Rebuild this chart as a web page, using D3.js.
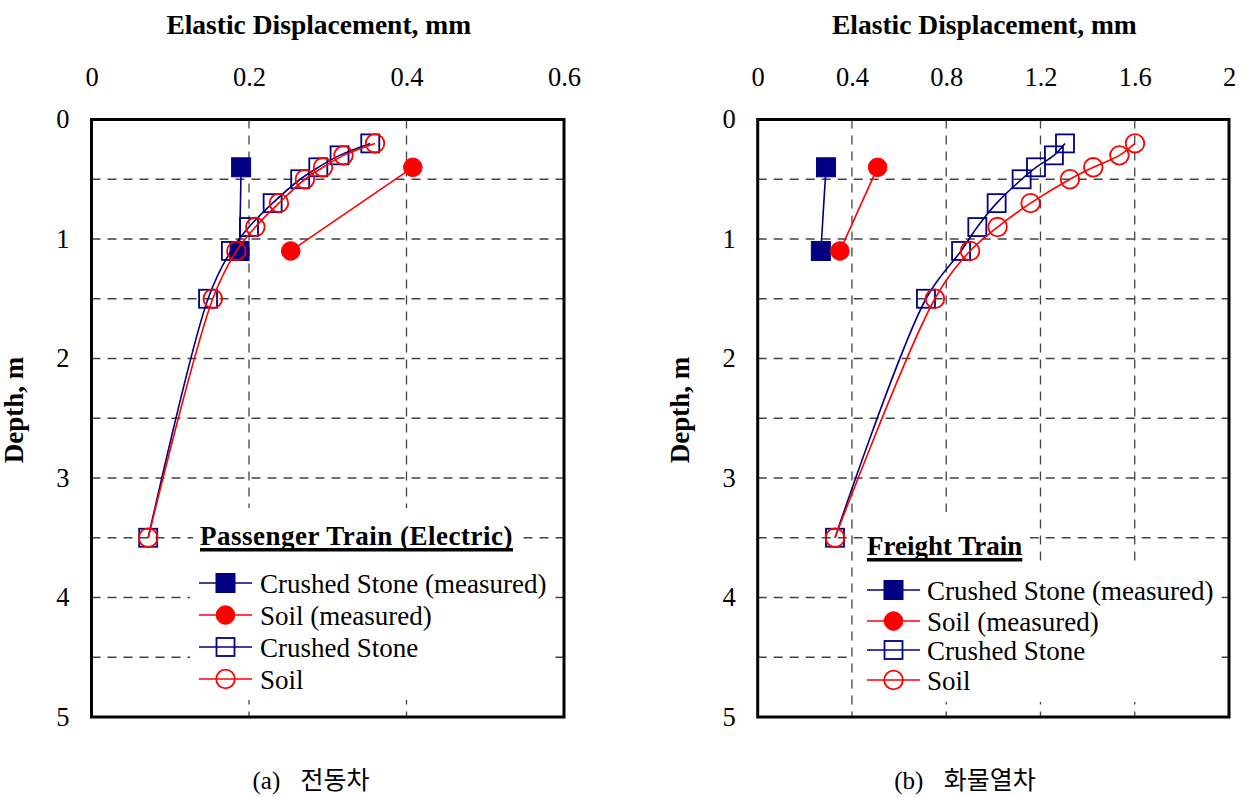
<!DOCTYPE html>
<html lang="en">
<head>
<meta charset="utf-8">
<script src="https://cdn.jsdelivr.net/npm/d3@7/dist/d3.min.js"></script>
<title>Elastic Displacement vs Depth</title>
<style>
    body { margin: 0; background: #fff; }
    svg { display: block; }
</style>
</head>
<body>
<div id="chart"></div>
<script>
// depths (m) of the points
const depthCalc = [0.2, 0.3, 0.4, 0.5, 0.7, 0.9, 1.1, 1.5, 3.5];
const depthMeasured = [0.4, 1.1];

// (a) passenger train, displacement in mm
const passengerStoneMeas = [0.190, 0.188];
const passengerSoilMeas = [0.408, 0.253];
const passengerStoneCalc = [0.354, 0.315, 0.288, 0.265, 0.230, 0.200, 0.177, 0.148, 0.072];
const passengerSoilCalc = [0.360, 0.320, 0.294, 0.271, 0.238, 0.208, 0.184, 0.154, 0.072];

// (b) freight train
const freightStoneMeas = [0.290, 0.268];
const freightSoilMeas = [0.509, 0.349];
const freightStoneCalc = [1.304, 1.257, 1.181, 1.120, 1.014, 0.932, 0.863, 0.714, 0.328];
const freightSoilCalc = [1.601, 1.535, 1.424, 1.325, 1.158, 1.018, 0.901, 0.752, 0.328];

const passengerXTicks = [0, 0.2, 0.4, 0.6];
const freightXTicks = [0, 0.4, 0.8, 1.2, 1.6, 2];
const depthTicks = [0, 1, 2, 3, 4, 5];
const depthGrid = [0.5, 1, 1.5, 2, 2.5, 3, 3.5, 4, 4.5];

const seriesNames = ["Crushed Stone (measured)", "Soil (measured)", "Crushed Stone", "Soil"];
const NAVY = "#000080", RED = "#ff0000";
const serif = "'Liberation Serif', 'Times New Roman', serif";

const svg = d3.select("#chart").append("svg")
    .attr("width", 1247)
    .attr("height", 797);

function symbol(g, type, cx, cy) {
    if (type === "filledSquare" || type === "openSquare") {
        const s = type === "filledSquare" ? 19 : 18;
        g.append("rect")
            .attr("x", cx - s / 2).attr("y", cy - s / 2)
            .attr("width", s).attr("height", s)
            .attr("fill", type === "filledSquare" ? NAVY : "none")
            .attr("stroke", NAVY)
            .attr("stroke-width", type === "filledSquare" ? 1 : 1.8);
    } else {
        g.append("circle")
            .attr("cx", cx).attr("cy", cy)
            .attr("r", 9.3)
            .attr("fill", type === "filledCircle" ? RED : "none")
            .attr("stroke", RED)
            .attr("stroke-width", type === "filledCircle" ? 1 : 1.8);
    }
}

function drawPanel(cfg) {
    const x = d3.scaleLinear().domain(cfg.xDomain).range([cfg.left, cfg.right]);
    const y = d3.scaleLinear().domain([0, 5]).range([119.5, 717]);
    const g = svg.append("g");

    // grid
    g.selectAll(".vgrid")
        .data(cfg.xTicks.slice(1, -1))
        .enter().append("line")
        .attr("x1", d => x(d)).attr("x2", d => x(d))
        .attr("y1", y(0)).attr("y2", y(5))
        .attr("stroke", "#444").attr("stroke-width", 1.3)
        .attr("stroke-dasharray", "9,7");
    g.selectAll(".hgrid")
        .data(depthGrid)
        .enter().append("line")
        .attr("x1", x.range()[0]).attr("x2", x.range()[1])
        .attr("y1", d => y(d)).attr("y2", d => y(d))
        .attr("stroke", "#444").attr("stroke-width", 1.3)
        .attr("stroke-dasharray", "9,7");

    // legend backgrounds hide the grid
    g.append("rect")
        .attr("x", cfg.legend.titleBox[0]).attr("y", cfg.legend.titleBox[1])
        .attr("width", cfg.legend.titleBox[2]).attr("height", cfg.legend.titleBox[3])
        .attr("fill", "#fff");
    g.append("rect")
        .attr("x", cfg.legend.box[0]).attr("y", cfg.legend.box[1])
        .attr("width", cfg.legend.box[2]).attr("height", cfg.legend.box[3])
        .attr("fill", "#fff");

    // border
    g.append("rect")
        .attr("x", x.range()[0]).attr("y", y(0))
        .attr("width", x.range()[1] - x.range()[0]).attr("height", y(5) - y(0))
        .attr("fill", "none").attr("stroke", "#000").attr("stroke-width", 3);

    // axes
    const xAxis = g.append("g")
        .attr("transform", `translate(0,${y(0)})`)
        .call(d3.axisTop(x).tickValues(cfg.xTicks).tickSize(0).tickPadding(33.5).tickFormat(d => String(d)));
    const yAxis = g.append("g")
        .attr("transform", `translate(${x.range()[0]},0)`)
        .call(d3.axisLeft(y).tickValues(depthTicks).tickSize(0).tickPadding(22).tickFormat(d => String(d)));
    [xAxis, yAxis].forEach(a => {
        a.select(".domain").remove();
        a.selectAll("text").attr("font-family", serif).attr("font-size", 26.5).attr("fill", "#000");
    });

    g.append("text")
        .attr("x", (x.range()[0] + x.range()[1]) / 2 - 9)
        .attr("y", 34)
        .attr("text-anchor", "middle")
        .attr("font-family", serif).attr("font-weight", "bold").attr("font-size", 27.5)
        .text("Elastic Displacement, mm");
    g.append("text")
        .attr("transform", `translate(${x.range()[0] - 69},410) rotate(-90)`)
        .attr("text-anchor", "middle")
        .attr("font-family", serif).attr("font-weight", "bold").attr("font-size", 27)
        .text("Depth, m");

    // series
    const series = [
        {vals: cfg.stoneMeas, depths: depthMeasured, color: NAVY, sym: "filledSquare", curve: d3.curveLinear},
        {vals: cfg.soilMeas, depths: depthMeasured, color: RED, sym: "filledCircle", curve: d3.curveLinear},
        {vals: cfg.stoneCalc, depths: depthCalc, color: NAVY, sym: "openSquare", curve: d3.curveCatmullRom.alpha(0.5)},
        {vals: cfg.soilCalc, depths: depthCalc, color: RED, sym: "openCircle", curve: d3.curveCatmullRom.alpha(0.5)}
    ];
    series.forEach(s => {
        const pts = s.vals.map((v, i) => [x(v), y(s.depths[i])]);
        g.append("path")
            .attr("d", d3.line().curve(s.curve)(pts))
            .attr("fill", "none").attr("stroke", s.color).attr("stroke-width", 1.6);
        pts.forEach(p => symbol(g, s.sym, p[0], p[1]));
    });

    // legend
    const L = cfg.legend;
    const title = g.append("text")
        .attr("x", L.titleX).attr("y", L.titleY)
        .attr("font-family", serif).attr("font-weight", "bold").attr("font-size", 27)
        .attr("letter-spacing", L.spacing)
        .text(cfg.title);
    const tw = title.node().getComputedTextLength();
    g.append("rect")
        .attr("x", L.titleX).attr("y", L.titleY + 3)
        .attr("width", tw).attr("height", 3.5)
        .attr("fill", "#000");
    series.forEach((s, i) => {
        const cy = L.rows[i];
        g.append("line")
            .attr("x1", L.lineX[0]).attr("x2", L.lineX[1])
            .attr("y1", cy).attr("y2", cy)
            .attr("stroke", s.color).attr("stroke-width", 1.6);
        symbol(g, s.sym, (L.lineX[0] + L.lineX[1]) / 2, cy);
        g.append("text")
            .attr("x", L.textX).attr("y", cy + 9.5)
            .attr("font-family", serif).attr("font-size", 27)
            .text(seriesNames[i]);
    });

    // caption
    svg.append("text")
        .attr("x", cfg.captionX).attr("y", 789)
        .attr("text-anchor", "middle")
        .attr("font-family", "'Liberation Serif', 'Noto Sans CJK KR', serif")
        .attr("font-size", 25)
        .attr("word-spacing", 14)
        .text(cfg.caption);
}

drawPanel({
    left: 91.5, right: 564, xDomain: [0, 0.6], xTicks: passengerXTicks,
    stoneMeas: passengerStoneMeas, soilMeas: passengerSoilMeas,
    stoneCalc: passengerStoneCalc, soilCalc: passengerSoilCalc,
    title: "Passenger Train (Electric)",
    legend: {
        titleBox: [193, 508, 325, 52], box: [190, 560, 363, 140],
        titleX: 200, titleY: 545, lineX: [199, 252], textX: 260, spacing: 0.5,
        rows: [583, 615, 647, 679]
    },
    caption: "(a) 전동차", captionX: 311
});

drawPanel({
    left: 757.7, right: 1229, xDomain: [0, 2], xTicks: freightXTicks,
    stoneMeas: freightStoneMeas, soilMeas: freightSoilMeas,
    stoneCalc: freightStoneCalc, soilCalc: freightSoilCalc,
    title: "Freight Train",
    legend: {
        titleBox: [865, 512, 165, 55], box: [853, 567, 367, 135],
        titleX: 867, titleY: 555, lineX: [867, 920], textX: 927, spacing: 0,
        rows: [590, 621, 650, 680]
    },
    caption: "(b) 화물열차", captionX: 965
});
</script>
</body>
</html>
